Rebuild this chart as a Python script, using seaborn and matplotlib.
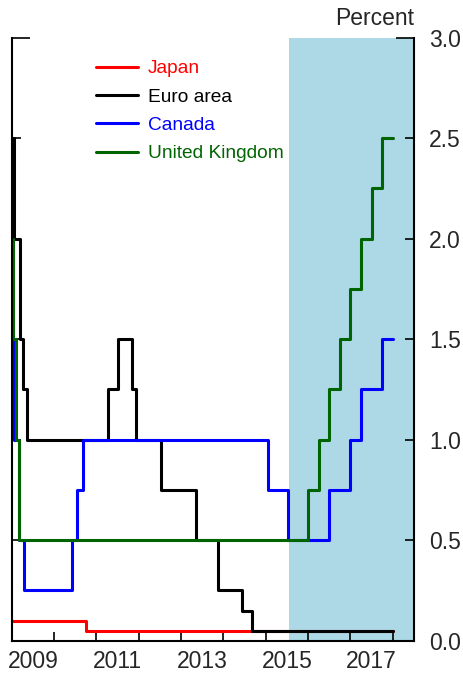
import matplotlib
matplotlib.use("Agg")
import matplotlib.pyplot as plt
import seaborn as sns
import pandas as pd

# Policy rates (step changes), x in fractional years
countries = ["Japan", "Euro area", "Canada", "United Kingdom"]
colors = ["#ff0000", "#000000", "#0000ff", "#006400"]

japan_dates = [2009.0, 2010.76, 2018.0]
japan_rates = [0.10, 0.05, 0.05]

euro_dates = [2009.0, 2009.05, 2009.19, 2009.27, 2009.36, 2011.27, 2011.52, 2011.85,
              2011.94, 2012.52, 2013.35, 2013.86, 2014.43, 2014.68, 2018.0]
euro_rates = [2.5, 2.0, 1.5, 1.25, 1.0, 1.25, 1.5, 1.25,
              1.0, 0.75, 0.5, 0.25, 0.15, 0.05, 0.05]

canada_dates = [2009.0, 2009.05, 2009.17, 2009.30, 2010.43, 2010.55, 2010.69, 2015.05,
                2015.53, 2016.5, 2017.0, 2017.25, 2017.75, 2018.0]
canada_rates = [1.5, 1.0, 0.5, 0.25, 0.5, 0.75, 1.0, 0.75,
                0.5, 0.75, 1.0, 1.25, 1.5, 1.5]

uk_dates = [2009.0, 2009.02, 2009.10, 2009.17, 2016.0, 2016.25, 2016.5, 2016.75,
            2017.0, 2017.25, 2017.5, 2017.75, 2018.0]
uk_rates = [2.0, 1.5, 1.0, 0.5, 0.75, 1.0, 1.25, 1.5,
            1.75, 2.0, 2.25, 2.5, 2.5]

projection_start = 2015.55

year_ticks = list(range(2010, 2019))
label_pos = [2009.5, 2011.5, 2013.5, 2015.5, 2017.5]
label_txt = ["2009", "2011", "2013", "2015", "2017"]
y_ticks = [0.0, 0.5, 1.0, 1.5, 2.0, 2.5, 3.0]

frames = []
for name, d, r in [("Japan", japan_dates, japan_rates),
                   ("Euro area", euro_dates, euro_rates),
                   ("Canada", canada_dates, canada_rates),
                   ("United Kingdom", uk_dates, uk_rates)]:
    frames.append(pd.DataFrame({"date": d, "rate": r, "country": name}))
df = pd.concat(frames, ignore_index=True)

sns.set_style("white")
plt.rcParams["font.family"] = ["Liberation Sans", "DejaVu Sans"]

fig = plt.figure(figsize=(4.63, 6.75), dpi=100)
ax = fig.add_axes([0.0253, 0.0508, 0.8689, 0.8936])

ax.axvspan(projection_start, 2018.5, color="#add8e6", lw=0, zorder=0)

sns.lineplot(data=df, x="date", y="rate", hue="country", hue_order=countries,
             palette=colors, drawstyle="steps-post", estimator=None, sort=False,
             lw=2.2, legend=False, ax=ax)

ax.set_xlim(2009.0, 2018.5)
ax.set_ylim(0, 3.0)
ax.set_xlabel("")
ax.set_ylabel("")

for s in ["left", "right", "bottom"]:
    ax.spines[s].set_visible(True)
    ax.spines[s].set_color("black")
    ax.spines[s].set_linewidth(1.5)
ax.spines["top"].set_visible(False)

ax.set_xticks(year_ticks)
ax.set_xticklabels([])
ax.set_xticks(label_pos, minor=True)
ax.set_xticklabels(label_txt, minor=True, fontsize=16.5)
ax.tick_params(axis="x", which="major", direction="in", length=6.5, width=1.2,
               bottom=True, color="black")
ax.tick_params(axis="x", which="minor", length=0, pad=7)

ax.set_yticks(y_ticks)
ax.set_yticklabels([f"{v:.1f}" for v in y_ticks], fontsize=16.5)
ax.tick_params(axis="y", direction="in", length=6.5, width=1.2, left=True, right=True,
               labelleft=False, labelright=True, pad=11, color="black")
top_tick = ax.yaxis.get_major_ticks()[-1]
top_tick.tick1line.set_markersize(13)
top_tick.tick2line.set_markersize(13)

ax.text(1.0, 1.02, "Percent", transform=ax.transAxes, ha="right", va="baseline",
        fontsize=16.5)

leg = ax.legend(ax.lines[:4], countries, loc="upper left", bbox_to_anchor=(0.2095, 0.963),
                frameon=False, fontsize=13.8, handlelength=2.2, handletextpad=0.5,
                labelspacing=0.57, borderpad=0, borderaxespad=0)
for t, c in zip(leg.get_texts(), colors):
    t.set_color(c)

fig.savefig("out.png", dpi=100)
